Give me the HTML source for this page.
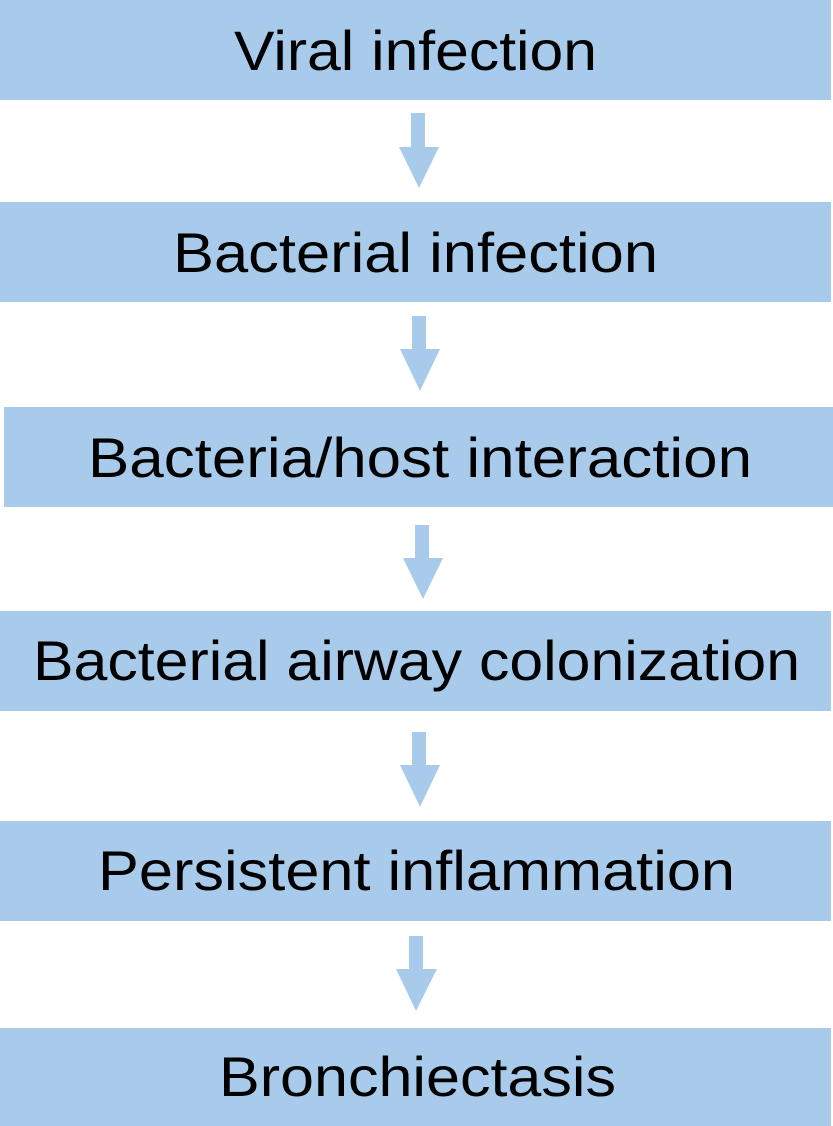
<!DOCTYPE html>
<html><head><meta charset="utf-8"><style>
html,body{margin:0;padding:0;background:#fff;}
svg{display:block;}
text{font-family:"Liberation Sans",sans-serif;font-size:56px;fill:#000;}
</style></head><body>
<svg width="833" height="1126" viewBox="0 0 833 1126" xmlns="http://www.w3.org/2000/svg">
<g fill="#a8cbec">
<rect x="0" y="0" width="831" height="100"/>
<rect x="0" y="202" width="831" height="100"/>
<rect x="4" y="407" width="829" height="100"/>
<rect x="0" y="611" width="831" height="100"/>
<rect x="0" y="821" width="831" height="100"/>
<rect x="0" y="1028" width="831" height="98"/>
<polygon points="411,113 425,113 425,147 439,147 419,188 399,147 411,147"/>
<polygon points="412,316 426,316 426,349 440,349 420,391 400,349 412,349"/>
<polygon points="415,525 429,525 429,558 443,558 423,599 403,558 415,558"/>
<polygon points="412,732 426,732 426,765 440,765 420,807 400,765 412,765"/>
<polygon points="409,936 423,936 423,969 437,969 416,1011 396,969 409,969"/>
</g>
<text x="234" y="70" textLength="363" lengthAdjust="spacingAndGlyphs">Viral infection</text>
<text x="173" y="272" textLength="485" lengthAdjust="spacingAndGlyphs">Bacterial infection</text>
<text x="88" y="477" textLength="664" lengthAdjust="spacingAndGlyphs">Bacteria/host interaction</text>
<text x="33" y="680" textLength="767" lengthAdjust="spacingAndGlyphs">Bacterial airway colonization</text>
<text x="98" y="890" textLength="637" lengthAdjust="spacingAndGlyphs">Persistent inflammation</text>
<text x="219" y="1096" textLength="397" lengthAdjust="spacingAndGlyphs">Bronchiectasis</text>
</svg>
</body></html>
